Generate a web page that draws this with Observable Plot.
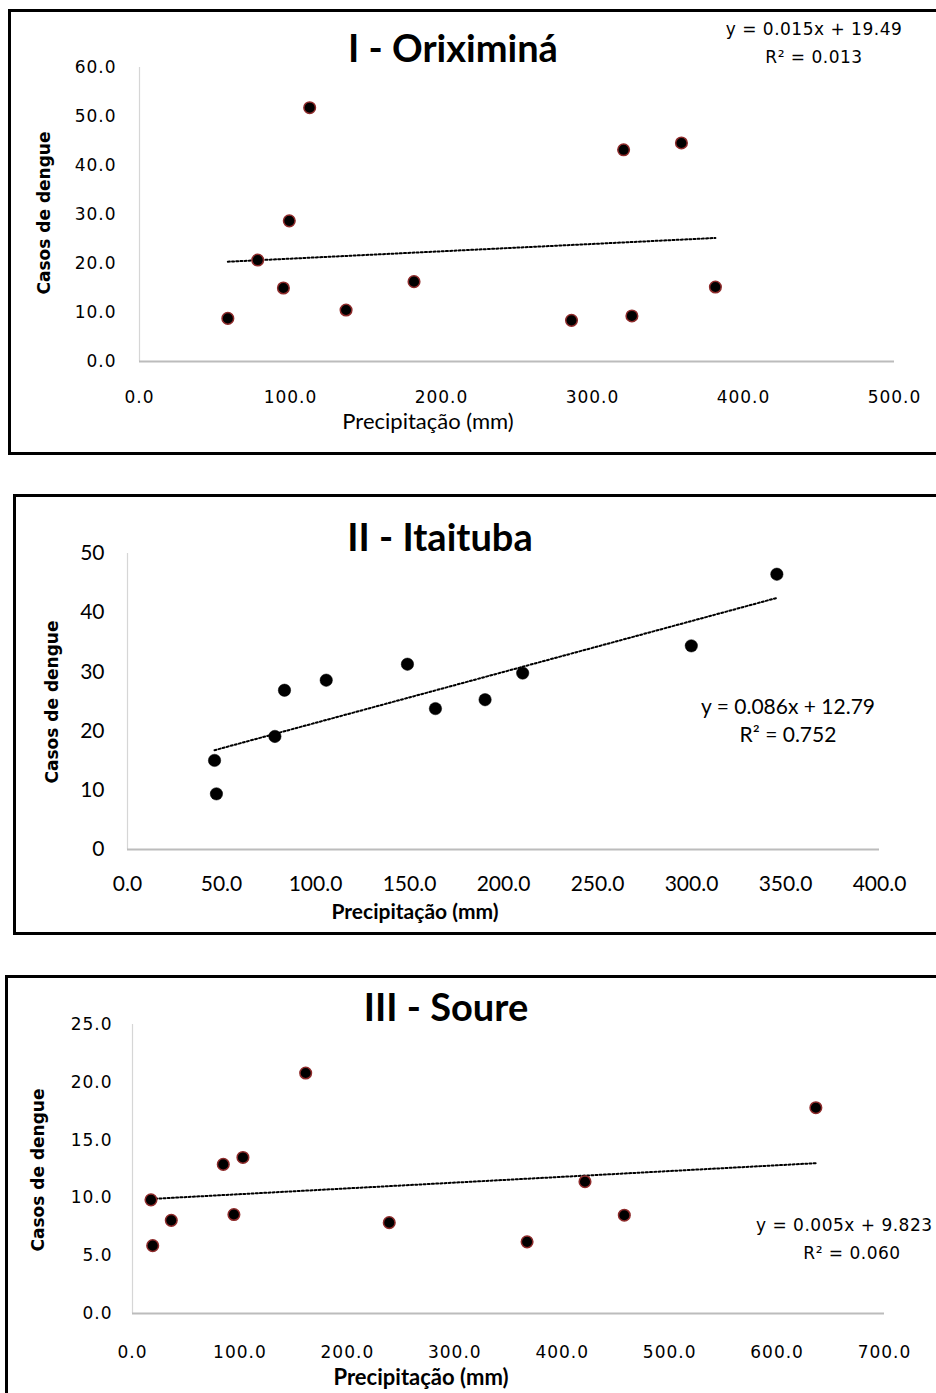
<!DOCTYPE html>
<html><head><meta charset="utf-8">
<script src="https://cdn.jsdelivr.net/npm/d3@7"></script>
<script src="https://cdn.jsdelivr.net/npm/@observablehq/plot@0.6"></script>
<style>
body{margin:0;background:#fff;}
#page{position:relative;width:936px;height:1393px;overflow:hidden;background:#fff;}
.box{position:absolute;border:3px solid #000;box-sizing:border-box;pointer-events:none;}
.abs{position:absolute;white-space:nowrap;color:#000;line-height:1;}
.ctr{transform:translate(-50%,-50%);}
.lft{transform:translate(0,-50%);}
.ylab{transform:translate(-50%,-50%) rotate(-90deg);font-family:"DejaVu Sans";font-weight:bold;font-size:17px;}
.pw{position:absolute;left:0;}
</style></head><body><div id="page"></div>
<script>
// ---- data ----
const oriximinaPrecip = [58.5, 78.3, 95.3, 99.2, 112.7, 136.8, 181.8, 286.1, 320.6, 326.1, 358.9, 381.4];
const oriximinaCases  = [8.8, 20.7, 15.0, 28.7, 51.8, 10.5, 16.3, 8.4, 43.2, 9.3, 44.6, 15.2];
const oriximinaTrend  = [0.015, 19.49];   // slope, intercept
const oriximinaR2     = "0.013";
const oriximinaXTicks = [0, 100, 200, 300, 400, 500];
const oriximinaYTicks = [0, 10, 20, 30, 40, 50, 60];

const itaitubaPrecip = [46.3, 47.3, 78.4, 83.5, 105.7, 148.9, 163.8, 190.2, 210.2, 299.9, 345.4];
const itaitubaCases  = [15.05, 9.4, 19.1, 26.9, 28.6, 31.3, 23.8, 25.3, 29.8, 34.4, 46.5];
const itaitubaTrend  = [0.086, 12.79];
const itaitubaR2     = "0.752";
const itaitubaXTicks = [0, 50, 100, 150, 200, 250, 300, 350, 400];
const itaitubaYTicks = [0, 10, 20, 30, 40, 50];

const sourePrecip = [17.2, 18.8, 36.1, 84.5, 94.4, 102.8, 161.2, 239.0, 367.3, 421.2, 457.8, 636.1];
const soureCases  = [9.83, 5.87, 8.06, 12.9, 8.56, 13.5, 20.8, 7.86, 6.2, 11.4, 8.5, 17.8];
const soureTrend  = [0.005, 9.823];
const soureR2     = "0.060";
const soureXTicks = [0, 100, 200, 300, 400, 500, 600, 700];
const soureYTicks = [0, 5, 10, 15, 20, 25];

const titles = ["I - Oriximiná", "II - Itaituba", "III - Soure"];
const xLabel = "Precipitação (mm)";
const yLabel = "Casos de dengue";

// ---- drawing ----
const page = document.getElementById("page");
function txt(s, left, top, css, cls) {
  const d = document.createElement("div");
  d.className = "abs " + (cls || "ctr");
  d.textContent = s;
  d.style.left = left + "px"; d.style.top = top + "px";
  Object.assign(d.style, css || {});
  page.appendChild(d);
  return d;
}
function eqText(trend) { return "y = " + trend[0].toFixed(3) + "x + " + trend[1]; }

function panel(cfg) {
  const rows = cfg.px.map((p, i) => ({p, c: cfg.cs[i]}));
  const x0 = d3.min(cfg.px), x1 = d3.max(cfg.px);
  const trend = [x0, x1].map(p => ({p, c: cfg.trend[0] * p + cfg.trend[1]}));
  const svg = Plot.plot({
    width: 936, height: cfg.height,
    marginTop: cfg.mt, marginBottom: cfg.mb, marginLeft: cfg.ml, marginRight: cfg.mr,
    style: Object.assign({background: "transparent", color: "#000"}, cfg.font),
    x: {domain: cfg.xd, ticks: cfg.xt, tickFormat: cfg.xf, tickSize: 0, tickPadding: cfg.xpad, label: null},
    y: {domain: cfg.yd, ticks: cfg.yt, tickFormat: cfg.yf, tickSize: 0, tickPadding: cfg.ypad, label: null},
    marks: [
      Plot.ruleX([0], {stroke: "#d6d6d6", strokeWidth: 1.2}),
      Plot.ruleY([0], {stroke: "#bcbcbc", strokeWidth: 1.8}),
      Plot.line(trend, {x: "p", y: "c", stroke: "#000", strokeWidth: 2, strokeDasharray: "2,2.2"}),
      Plot.dot(rows, {x: "p", y: "c", r: cfg.r, fill: "#000", stroke: cfg.dotStroke, strokeWidth: cfg.dsw})
    ]
  });
  const w = document.createElement("div");
  w.className = "pw"; w.style.top = cfg.top + "px";
  w.appendChild(svg);
  page.appendChild(w);
}

const tahoma = {fontFamily: "DejaVu Sans", fontSize: "17px", letterSpacing: "1px"};
const calibri = {fontFamily: "Lato", fontSize: "21px"};

panel({top: 0, height: 460, mt: 67, mb: 99, ml: 139, mr: 42,
  px: oriximinaPrecip, cs: oriximinaCases, trend: oriximinaTrend,
  xd: [0, 500], yd: [0, 60], xt: oriximinaXTicks, yt: oriximinaYTicks,
  xf: d3.format(".1f"), yf: d3.format(".1f"), xpad: 29, ypad: 23,
  font: tahoma, r: 5.8, dotStroke: "#8e2b2b", dsw: 1.5});
panel({top: 480, height: 460, mt: 73, mb: 91, ml: 127, mr: 57,
  px: itaitubaPrecip, cs: itaitubaCases, trend: itaitubaTrend,
  xd: [0, 400], yd: [0, 50], xt: itaitubaXTicks, yt: itaitubaYTicks,
  xf: d3.format(".1f"), yf: d3.format("d"), xpad: 27, ypad: 23,
  font: calibri, r: 6.2, dotStroke: "#000", dsw: 0.5});
panel({top: 960, height: 433, mt: 64, mb: 80, ml: 132, mr: 52,
  px: sourePrecip, cs: soureCases, trend: soureTrend,
  xd: [0, 700], yd: [0, 25], xt: soureXTicks, yt: soureYTicks,
  xf: d3.format(".1f"), yf: d3.format(".1f"), xpad: 32, ypad: 20,
  font: tahoma, r: 5.8, dotStroke: "#8e2b2b", dsw: 1.5});

// titles
const titleCss = {fontFamily: "Lato", fontWeight: "bold", fontSize: "38px"};
txt(titles[0], 453, 47, titleCss);
txt(titles[1], 440, 536, titleCss);
txt(titles[2], 446, 1006, titleCss);

// y labels
txt(yLabel, 44, 213, {}, "ylab");
txt(yLabel, 52, 702, {}, "ylab");
txt(yLabel, 38, 1170, {}, "ylab");

// x labels
txt(xLabel, 428, 421, {fontFamily: "Lato", fontSize: "22px"});
txt(xLabel, 415, 910, {fontFamily: "Lato", fontWeight: "bold", fontSize: "21px"});
txt(xLabel, 421, 1377, {fontFamily: "Lato", fontWeight: "bold", fontSize: "22px"});

// equations
const eqT = {fontFamily: "DejaVu Sans", fontSize: "17px", letterSpacing: "0.5px"};
txt(eqText(oriximinaTrend), 814, 29, eqT);
txt("R² = " + oriximinaR2, 814, 57, eqT);
const eqC = {fontFamily: "Lato", fontSize: "21px"};
txt(eqText(itaitubaTrend), 788, 705, eqC);
txt("R² = " + itaitubaR2, 788, 733, eqC);
txt(eqText(soureTrend), 756, 1225, eqT, "lft");
txt("R² = " + soureR2, 852, 1253, eqT);

// frames
[[8, 9, 940, 446], [13, 494, 940, 441], [5, 975, 940, 440]].forEach(([l, t, w, h]) => {
  const b = document.createElement("div");
  b.className = "box";
  b.style.left = l + "px"; b.style.top = t + "px"; b.style.width = w + "px"; b.style.height = h + "px";
  page.appendChild(b);
});
</script></body></html>
